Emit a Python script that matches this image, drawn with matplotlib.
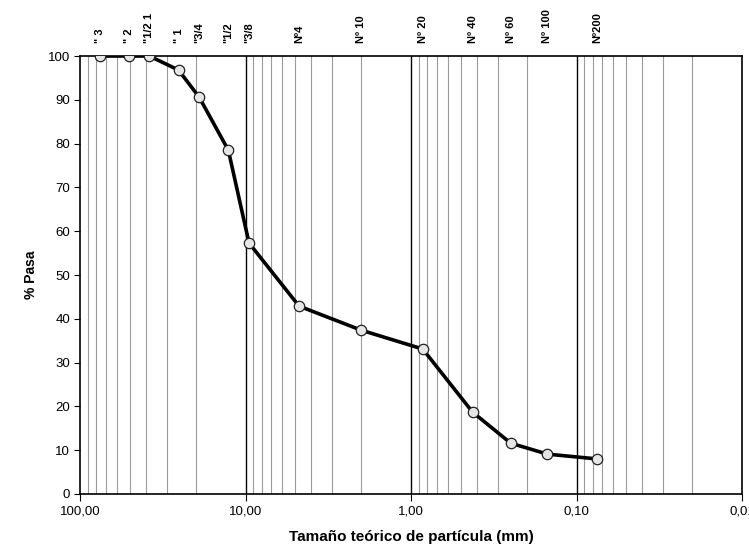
import matplotlib
matplotlib.use('Agg')
import numpy as np
import matplotlib.pyplot as plt
from matplotlib.ticker import FixedLocator, FixedFormatter

plt.rcParams['font.family'] = ['Liberation Sans', 'DejaVu Sans']

# ── Data ──────────────────────────────────────────────────────
sieve_names = ['" 3', '" 2', '"1/2 1', '" 1', '"3/4', '"1/2', '"3/8',
               'Nº4', 'Nº 10', 'Nº 20', 'Nº 40', 'Nº 60', 'Nº 100', 'Nº200']
sieve_mm = [76.2, 50.8, 38.1, 25.4, 19.05, 12.7, 9.525,
            4.75, 2.0, 0.85, 0.425, 0.25, 0.15, 0.075]
pct_pass = [100.0, 100.0, 100.0, 96.8, 90.6, 78.5, 57.3,
            42.9, 37.4, 33.1, 18.7, 11.6, 9.1, 8.0]

x_ticks = [100, 10, 1, 0.1, 0.01]
x_ticklabels = ['100,00', '10,00', '1,00', '0,10', '0,01']
y_ticks = list(range(0, 101, 10))

# ── Figure ────────────────────────────────────────────────────
fig = plt.figure(figsize=(7.49, 5.45), dpi=100)
ax = fig.add_axes([0.1068, 0.0936, 0.884, 0.8036])

ax.set_xscale('log')
ax.set_xlim(100, 0.01)
ax.set_ylim(0, 100)

# grid: minor gray, decades black
for dec in [10, 1, 0.1, 0.01]:
    for m in range(2, 10):
        ax.axvline(dec * m, color='#9a9a9a', lw=0.8, zorder=1)
for d in [10, 1, 0.1]:
    ax.axvline(d, color='black', lw=1.0, zorder=1)

ax.plot(sieve_mm, pct_pass, color='black', lw=2.6, zorder=3,
        marker='o', markersize=7.5, markerfacecolor='#e6e6e6',
        markeredgecolor='#222222', markeredgewidth=0.9)

ax.xaxis.set_major_locator(FixedLocator(x_ticks))
ax.xaxis.set_major_formatter(FixedFormatter(x_ticklabels))
ax.xaxis.set_minor_locator(FixedLocator([]))
ax.set_yticks(y_ticks)
ax.tick_params(axis='both', labelsize=9.5, direction='out', length=4, width=0.8)
ax.tick_params(axis='x', length=5, pad=3)
ax.tick_params(axis='y', pad=3)

for s in ax.spines.values():
    s.set_linewidth(1.2)

ax.set_xlabel('Tamaño teórico de partícula (mm)', fontsize=11,
              fontweight='bold', labelpad=9)
ax.set_ylabel('% Pasa', fontsize=10, fontweight='bold', labelpad=7)

# sieve labels above the plot
for name, x in zip(sieve_names, sieve_mm):
    ax.text(x, 1.03, name, transform=ax.get_xaxis_transform(),
            rotation=90, ha='center', va='bottom', fontsize=8,
            fontweight='bold')

fig.savefig('out.png', dpi=100, facecolor='white')
